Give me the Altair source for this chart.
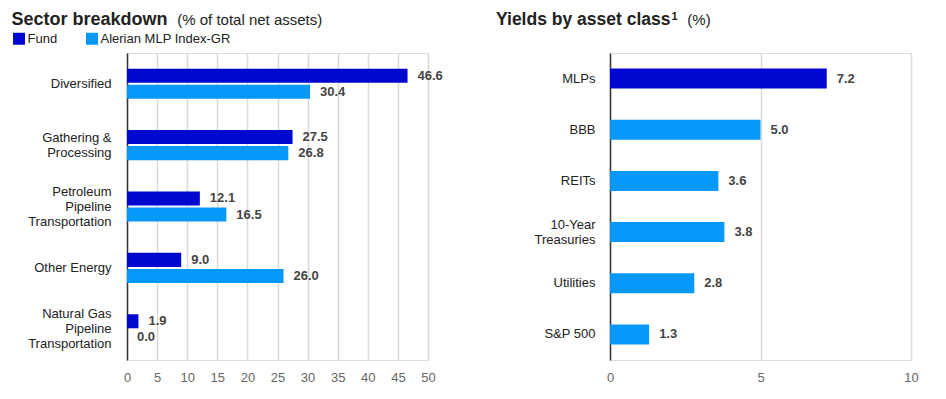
import altair as alt
import pandas as pd

FONT = "Arial, Liberation Sans, sans-serif"
DARK = "#0008D0"
LIGHT = "#0698F8"

# ---- Sector breakdown data ----
sectors = [
    "Diversified",
    "Gathering &\nProcessing",
    "Petroleum\nPipeline\nTransportation",
    "Other Energy",
    "Natural Gas\nPipeline\nTransportation",
]
fund_values = [46.6, 27.5, 12.1, 9.0, 1.9]
index_values = [30.4, 26.8, 16.5, 26.0, 0.0]
series_names = ["Fund", "Alerian MLP Index-GR"]
sector_ticks = [0, 5, 10, 15, 20, 25, 30, 35, 40, 45, 50]

# ---- Yields data ----
asset_classes = ["MLPs", "BBB", "REITs", "10-Year\nTreasuries", "Utilities", "S&P 500"]
yield_values = [7.2, 5.0, 3.6, 3.8, 2.8, 1.3]
yield_groups = ["MLP", "Other", "Other", "Other", "Other", "Other"]
yield_ticks = [0, 5, 10]

# ---- headings ----
left_title = "Sector breakdown"
left_note = "(% of total net assets)"
right_title = "Yields by asset class"
right_sup = "1"
right_note = "(%)"

rows = []
for s, f, i in zip(sectors, fund_values, index_values):
    rows.append({"sector": s, "series": series_names[0], "value": f})
    rows.append({"sector": s, "series": series_names[1], "value": i})
df1 = pd.DataFrame(rows)

df2 = pd.DataFrame({"asset": asset_classes, "value": yield_values, "group": yield_groups})

label_expr = "split(datum.label, '\\n')"
LINE_H = 15
label_offset = {
    "condition": [
        {"test": "length(split(datum.value, '\\n')) == 3", "value": -LINE_H},
        {"test": "length(split(datum.value, '\\n')) == 2", "value": -LINE_H / 2},
    ],
    "value": 0,
}

TITLE_Y = -28


def heading(text, x, y, size, weight, color="#222"):
    return (
        alt.Chart(pd.DataFrame({"t": [text]}))
        .mark_text(align="left", baseline="alphabetic", fontSize=size, fontWeight=weight,
                   color=color, font=FONT)
        .encode(x=alt.value(x), y=alt.value(y), text="t:N")
    )


def y_axis(pad):
    return alt.Axis(title=None, labelExpr=label_expr, labelFontSize=13, labelColor="#222",
                    labelFont=FONT, labelPadding=pad, labelLineHeight=LINE_H,
                    labelOffset=label_offset, ticks=False,
                    domainColor="#333", domainWidth=1.5, grid=False)


def x_axis(vals):
    return alt.Axis(title=None, values=vals, grid=True, gridColor="#d9d9d9", gridWidth=1.5,
                    domain=False, ticks=False, labelFontSize=13, labelColor="#666",
                    labelFont=FONT, labelPadding=11, labelFlush=False)


# ---------------- left chart ----------------
y1 = alt.Y("sector:N", sort=sectors,
           scale=alt.Scale(paddingInner=0.51, paddingOuter=0.255), axis=y_axis(16))
x1 = alt.X("value:Q", scale=alt.Scale(domain=[0, 50], nice=False), axis=x_axis(sector_ticks))
yo1 = alt.YOffset("series:N", sort=series_names,
                  scale=alt.Scale(paddingInner=0.125, paddingOuter=0))

base1 = alt.Chart(df1)
bars1 = base1.mark_bar().encode(
    x=x1, y=y1, yOffset=yo1,
    color=alt.Color(
        "series:N",
        scale=alt.Scale(domain=series_names, range=[DARK, LIGHT]),
        legend=alt.Legend(title=None, orient="none", legendX=-114.5, legendY=-21,
                          direction="horizontal", symbolType="square", symbolSize=144,
                          symbolStrokeWidth=0, labelFontSize=13, labelColor="#222",
                          labelFont=FONT, labelOffset=2, columnPadding=28, padding=0),
    ),
)
text1 = base1.mark_text(align="left", baseline="middle", dx=10, fontSize=13,
                        fontWeight="bold", color="#444", font=FONT).encode(
    x=x1, y=y1, yOffset=yo1, text=alt.Text("value:Q", format=".1f"))

left = alt.layer(
    bars1, text1,
    heading(left_title, -115.5, TITLE_Y, 18, "bold"),
    heading(left_note, 50.2, TITLE_Y, 15, "normal"),
).properties(width=301, height=307)

# ---------------- right chart ----------------
y2 = alt.Y("asset:N", sort=asset_classes,
           scale=alt.Scale(paddingInner=0.609, paddingOuter=0.3045), axis=y_axis(15))
x2 = alt.X("value:Q", scale=alt.Scale(domain=[0, 10], nice=False), axis=x_axis(yield_ticks))
base2 = alt.Chart(df2)
bars2 = base2.mark_bar().encode(
    x=x2, y=y2,
    color=alt.Color("group:N", scale=alt.Scale(domain=["MLP", "Other"], range=[DARK, LIGHT]),
                    legend=None),
)
text2 = base2.mark_text(align="left", baseline="middle", dx=10, fontSize=13,
                        fontWeight="bold", color="#444", font=FONT).encode(
    x=x2, y=y2, text=alt.Text("value:Q", format=".1f"))

right = alt.layer(
    bars2, text2,
    heading(right_title, -114, TITLE_Y, 17.5, "bold"),
    heading(right_sup, 61.5, TITLE_Y - 5, 11, "bold"),
    heading(right_note, 77.3, TITLE_Y, 15, "normal"),
).properties(width=301, height=307)

chart = (
    alt.hconcat(left, right, spacing=51)
    .resolve_scale(color="independent")
    .properties(padding={"left": 3, "top": 2, "right": 0, "bottom": 0})
    .configure_view(stroke=None)
    .configure(font=FONT)
)

chart.save("out.html", embed_options={"renderer": "svg", "actions": False})
